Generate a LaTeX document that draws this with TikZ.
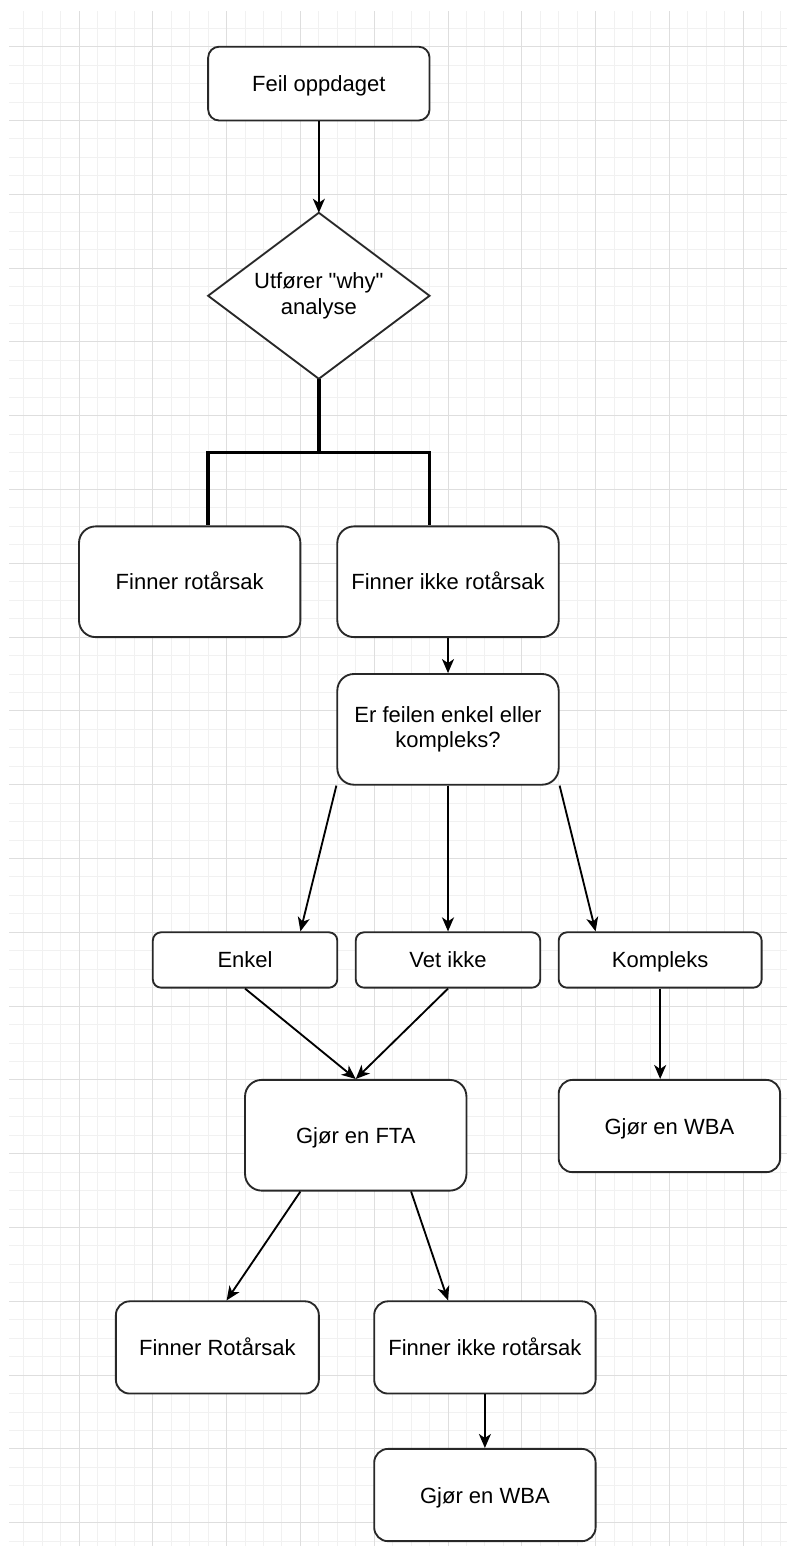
\documentclass[tikz,border=0pt]{standalone}
\usepackage{fontspec}
\setmainfont{Liberation Sans}
% same face without TeX input ligatures, for straight quote marks
\newfontfamily\straightfont{Liberation Sans}[Ligatures=ResetAll]
\usetikzlibrary{arrows.meta,calc}
\definecolor{gridminor}{RGB}{241,241,241}
\definecolor{gridmajor}{RGB}{222,222,222}
\definecolor{boxline}{RGB}{40,40,40}
\begin{document}
\begin{tikzpicture}[x=1.845pt, y=-1.845pt,
  txt/.style={font=\fontsize{22pt}{25.3pt}\selectfont, align=center, text=black},
  box/.style={txt, draw=boxline, line width=1.85pt, fill=white, inner sep=0pt},
  one/.style={text height=16pt, text depth=0pt},
  w120/.style={minimum width=221.4pt},
  w110/.style={minimum width=202.95pt},
  w100/.style={minimum width=184.5pt},
  h60/.style={minimum height=110.7pt, rounded corners=16.6pt},
  h50/.style={minimum height=92.25pt, rounded corners=13.8pt},
  h40/.style={minimum height=73.8pt, rounded corners=11pt},
  h30/.style={minimum height=55.35pt, rounded corners=8.3pt},
  arr/.style={draw=black, line width=1.85pt, -{Stealth[length=14pt, width=12pt, inset=4pt]}},
  bold/.style={draw=black, line width=3.7pt, line join=miter},
  minor/.style={draw=gridminor, line width=1pt},
  major/.style={draw=gridmajor, line width=1pt}]

% page and background grid
\fill[white] (-2.818,-5.312) rectangle (423.73,832.63);
\useasboundingbox (-2.818,-5.312) rectangle (423.73,832.63);
\foreach \i in {10,20,...,420} \draw[minor] (\i,0.65) -- (\i,832.63);
\foreach \j in {10,20,...,830} \draw[minor] (2.06,\j) -- (423.73,\j);
\foreach \i in {40,80,...,400} \draw[major] (\i,0.65) -- (\i,832.63);
\foreach \j in {20,60,...,820} \draw[major] (2.06,\j) -- (423.73,\j);

% start
\node[box, one, w120, h40] (feil) at (170,40) {Feil oppdaget};

% decision diamond
\coordinate (whytop) at (170,110);
\coordinate (whyright) at (230,155);
\coordinate (whybot) at (170,200);
\coordinate (whyleft) at (110,155);
\filldraw[fill=white, draw=boxline, line width=1.85pt] (whytop) -- (whyright) -- (whybot) -- (whyleft) -- cycle;
\node[txt] (why) at (170,155) {Utfører {\straightfont"why"}\\analyse};
\coordinate (fork) at (170,240);

% outcomes of the analysis
\node[box, one, w120, h60] (rot1) at (100,310) {Finner rotårsak};
\node[box, one, w120, h60] (ikke1) at (240,310) {Finner ikke rotårsak};
\node[box, w120, h60] (er) at (240,390) {Er feilen enkel eller\\kompleks?};

\node[box, one, w100, h30] (enkel) at (130,515) {Enkel};
\node[box, one, w100, h30] (vet) at (240,515) {Vet ikke};
\node[box, one, w110, h30] (kompl) at (355,515) {Kompleks};

\node[box, one, w120, h60] (fta) at (190,610) {Gjør en FTA};
\node[box, one, w120, h50] (wba1) at (360,605) {Gjør en WBA};

\node[box, one, w110, h50] (rot2) at (115,725) {Finner Rotårsak};
\node[box, one, w120, h50] (ikke2) at (260,725) {Finner ikke rotårsak};
\node[box, one, w120, h50] (wba2) at (260,805) {Gjør en WBA};

% connectors
\draw[arr] (feil) -- (whytop);
\draw[bold] (whybot) -- (fork) -| ([xshift=18.45pt]rot1.north);
\draw[bold] (fork) -| ([xshift=-18.45pt]ikke1.north);
\draw[arr] (ikke1) -- (er);
\draw[arr] (er.south west) -- ([xshift=55.35pt]enkel.north);
\draw[arr] (er) -- (vet);
\draw[arr] (er.south east) -- ([xshift=-64.575pt]kompl.north);
\draw[arr] (enkel.south) -- (fta.north);
\draw[arr] (vet.south) -- (fta.north);
\draw[arr] (kompl.south) -- (kompl.south |- wba1.north);
\draw[arr] ([xshift=-55.35pt]fta.south) -- ([xshift=9.225pt]rot2.north);
\draw[arr] ([xshift=55.35pt]fta.south) -- ([xshift=-36.9pt]ikke2.north);
\draw[arr] (ikke2) -- (wba2);
\end{tikzpicture}
\end{document}
